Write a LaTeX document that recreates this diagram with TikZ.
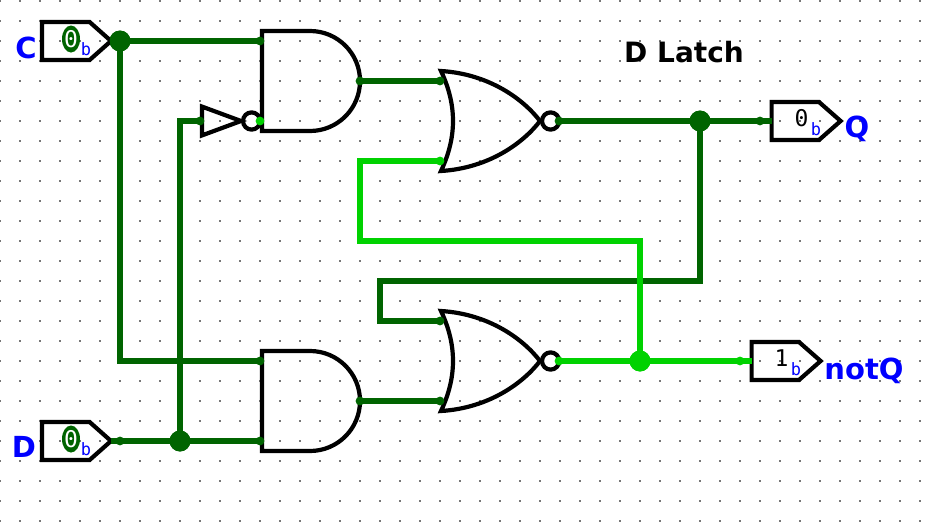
\documentclass[tikz,border=0pt]{standalone}
\usepackage{fontspec}
\usetikzlibrary{shapes.geometric}
\setmainfont{DejaVu Sans}
\newfontfamily\valfont{DejaVu Sans Mono}
\definecolor{wireoff}{HTML}{006400}
\definecolor{wireon}{HTML}{00D200}
\definecolor{griddot}{HTML}{777777}
\tikzset{
    offwire/.style={draw=wireoff,line width=6pt,line join=miter},
    onwire/.style={draw=wireon,line width=6pt,line join=miter},
    part/.style={draw=black,line width=4.2pt,line join=miter},
    bigdot/.style={circle,inner sep=0pt,minimum size=21pt},
    name text/.style={anchor=base,inner sep=0pt,font=\bfseries\fontsize{29}{29}\selectfont,text=blue},
    val text/.style={anchor=base,inner sep=0pt,font=\valfont\fontsize{23}{23}\selectfont},
    fat text/.style={ellipse,fill=wireoff,inner sep=0pt,minimum width=18pt,minimum height=27pt,font=\valfont\fontsize{23}{23}\selectfont,text=white},
    base text/.style={anchor=base,inner sep=0pt,font=\valfont\fontsize{17}{17}\selectfont,text=blue},
    pics/andgate/.style={code={
        \draw[part] (0.1,-2.5) -- (2.5,-2.5) arc[start angle=-90,end angle=90,radius=2.5] -- (0.1,2.5) -- cycle;
        \coordinate (-a) at (0,-2);
        \coordinate (-b) at (0,2);
        \coordinate (-y) at (5,0);
    }},
    pics/norgate/.style={code={
        \draw[part] (0.05,-2.5) .. controls (0.85,-0.8) and (0.85,0.8) .. (0.05,2.5)
            .. controls (2.5,2.35) and (4.2,1.05) .. (5,0)
            .. controls (4.2,-1.05) and (2.5,-2.35) .. cycle;
        \draw[part] (5.53,0) circle (0.43);
        \coordinate (-a) at (0,-2);
        \coordinate (-b) at (0,2);
        \coordinate (-y) at (5.95,0);
    }},
    pics/notgate/.style={code={
        \draw[part] (0.1,-0.72) -- (2.05,0) -- (0.1,0.72) -- cycle;
        \draw[part] (2.58,0) circle (0.43);
        \coordinate (-a) at (0,0);
        \coordinate (-y) at (3,0);
    }},
    pics/inpin/.style={code={
        \draw[part] (-3.9,-0.95) -- (-1.52,-0.95) -- (-0.45,0) -- (-1.52,0.95) -- (-3.9,0.95) -- cycle;
        \coordinate (-y) at (0,0);
        \coordinate (-tip) at (-0.45,0);
    }},
    pics/outpin/.style={code={
        \draw[part] (0.58,-0.95) -- (2.95,-0.95) -- (4.03,0) -- (2.95,0.95) -- (0.58,0.95) -- cycle;
        \coordinate (-a) at (0,0);
        \coordinate (-edge) at (0.58,0);
    }},
}
\begin{document}
\begin{tikzpicture}[x=20pt,y=-20pt]
    \useasboundingbox (0,-0.05) rectangle (46.85,26.35);
    % background dots
    \foreach \i in {0,...,46}
        \foreach \j in {0,...,26}
            \fill[griddot] (\i-0.05,\j-0.05) rectangle (\i+0.05,\j+0.05);

    \node[bigdot,fill=wireoff] (jC) at (6,2) {};
    \node[bigdot,fill=wireoff] (jD) at (9,22) {};
    \node[bigdot,fill=wireoff] (jQ) at (35,6) {};
    \node[bigdot,fill=wireon] (jN) at (32,18) {};
    \coordinate (turnA) at (18,8);
    \coordinate (turnB) at (18,12);
    \coordinate (turnC) at (35,14);
    \coordinate (turnD) at (19,14);
    \coordinate (turnE) at (19,16);

    \pic (pinC) at (6,2) {inpin};
    \pic (pinD) at (6,22) {inpin};
    \pic (pinQ) at (38,6) {outpin};
    \pic (pinN) at (37,18) {outpin};
    \pic (inv) at (10,6) {notgate};
    \pic (andA) at (13,4) {andgate};
    \pic (andB) at (13,20) {andgate};
    \pic (norA) at (22,6) {norgate};
    \pic (norB) at (22,18) {norgate};

    % wires that are low
    \draw[offwire] (jC.center) -- (andA-a);
    \draw[offwire] (jC.center) |- (andB-a);
    \draw[offwire] (pinD-tip) -- (andB-b);
    \draw[offwire] (jD.center) |- (inv-a);
    \draw[offwire] (andA-y) -- (norA-a);
    \draw[offwire] (andB-y) -- (norB-b);
    \draw[offwire] (norA-y) -- (pinQ-edge);
    \draw[offwire] (jQ.center) -- (turnC) -- (turnD) -- (turnE) -- (norB-a);
    % wires that are high
    \draw[onwire] (norA-b) -- (turnA) -- (turnB) -| (jN.center);
    \draw[onwire] (norB-y) -- (pinN-edge);

    \foreach \p in {andA-a,andB-a,andB-b,pinD-y,inv-a,andA-y,norA-a,andB-y,norB-b,norA-y,pinQ-a,norB-a}
        \fill[wireoff] (\p) circle (0.22);
    \foreach \p in {norA-b,norB-y,pinN-a,inv-y}
        \fill[wireon] (\p) circle (0.22);
    \fill[wireoff] (jC) circle (0.52);
    \fill[wireoff] (jD) circle (0.52);
    \fill[wireoff] (jQ) circle (0.52);
    \fill[wireon] (jN) circle (0.52);

    \node[fat text] (valC) at (3.55,1.9) {\makebox[0pt]{0}};
    \node[base text] (baseC) at (4.3,2.7) {b};
    \node[fat text] (valD) at (3.55,21.9) {\makebox[0pt]{0}};
    \node[base text] (baseD) at (4.3,22.7) {b};
    \node[val text] (valQ) at (40.08,6.25) {0};
    \node[base text] (baseQ) at (40.8,6.7) {b};
    \node[val text] (valN) at (39.08,18.28) {1};
    \node[base text] (baseN) at (39.8,18.7) {b};

    \node[name text] (nameC) at (1.3,2.85) {C};
    \node[name text] (nameD) at (1.2,22.8) {D};
    \node[name text] (nameQ) at (42.85,6.8) {Q};
    \node[name text] (nameN) at (43.2,18.9) {notQ};
    \node[name text,text=black,font=\bfseries\fontsize{28}{28}\selectfont] (title) at (34.2,3.05) {D Latch};
\end{tikzpicture}
\end{document}
